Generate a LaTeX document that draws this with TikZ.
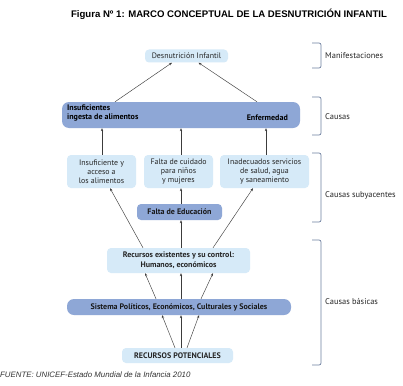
\documentclass[tikz,border=0pt]{standalone}
\usepackage{fontspec}
\setmainfont{PT Sans}
\newfontfamily\arialfont{Liberation Sans}
\usetikzlibrary{arrows.meta}
\definecolor{lightbox}{RGB}{214,234,248}
\definecolor{darkbox}{RGB}{142,167,214}
\definecolor{brackcol}{RGB}{110,128,160}
\definecolor{arrcol}{RGB}{60,60,60}
\begin{document}
\begin{tikzpicture}[x=1pt,y=-1pt,
  lbox/.style={fill=lightbox,draw=none,rounded corners=4pt,inner sep=0pt,align=center,
    font=\fontsize{7.9}{8.8}\selectfont,text=black!85},
  dbox/.style={fill=darkbox,draw=none,rounded corners=4pt,inner sep=0pt,align=center,
    font=\fontsize{8}{9}\selectfont\bfseries,text=black!90},
  arr/.style={draw=arrcol,line width=0.45pt,-{Stealth[length=3pt,width=2.4pt]}},
  brk/.style={draw=brackcol,line width=0.7pt,rounded corners=2pt},
  lvl/.style={anchor=west,inner sep=0pt,font=\fontsize{8.4}{10}\selectfont,text=black!85}]
\useasboundingbox[fill=white] (0,0) rectangle (403,385);

% title
\node[font=\arialfont\bfseries\fontsize{9.6}{11}\selectfont] (title) at (229,14) {Figura Nº 1: MARCO CONCEPTUAL DE LA DESNUTRICIÓN INFANTIL};

% boxes
\node[lbox,minimum width=83pt,minimum height=13pt] (desn) at (186.5,56) {Desnutrición Infantil};
\node[dbox,minimum width=238pt,minimum height=26pt,rounded corners=7pt] (causas) at (181,115) {};
\node[anchor=west,inner sep=0pt,align=left,font=\fontsize{8}{9}\selectfont\bfseries] (insuf) at (67,113) {Insuficientes\\ingesta de alimentos};
\node[anchor=east,inner sep=0pt,font=\fontsize{8}{9}\selectfont\bfseries] (enf) at (288,117.5) {Enfermedad};

\node[lbox,minimum width=69pt,minimum height=33pt] (sub1) at (101.5,171.5) {Insuficiente y\\acceso a\\los alimentos};
\node[lbox,minimum width=69pt,minimum height=33pt] (sub2) at (178.5,171.5) {Falta de cuidado\\para niños\\y mujeres};
\node[lbox,minimum width=89pt,minimum height=33pt] (sub3) at (264.5,171.5) {Inadecuados servicios\\de salud, agua\\y saneamiento};

\node[dbox,minimum width=85pt,minimum height=16pt] (educ) at (179.5,212) {Falta de Educación};
\node[lbox,minimum width=143pt,minimum height=25pt,font=\fontsize{8}{10}\selectfont\bfseries] (recex) at (178.5,260.5) {Recursos existentes y su control:\\Humanos, económicos};
\node[dbox,minimum width=224pt,minimum height=16pt,rounded corners=7pt] (sist) at (179,307) {Sistema Políticos, Económicos, Culturales y Sociales};
\node[lbox,minimum width=111pt,minimum height=15pt,font=\fontsize{8}{9}\selectfont\bfseries] (recpot) at (177.5,355.5) {RECURSOS POTENCIALES};

% arrows
\draw[arr] ([xshift=-66pt]causas.north) -- ([xshift=-14.5pt]desn.south);
\draw[arr] ([xshift=76pt]causas.north) -- ([xshift=12pt]desn.south);

\draw[arr] ([xshift=0.5pt]sub1.north) -- ([xshift=0.5pt]sub1.north |- causas.south);
\draw[arr] ([xshift=2.5pt]sub2.north) -- ([xshift=2.5pt]sub2.north |- causas.south);
\draw[arr] ([xshift=1.5pt]sub3.north) -- ([xshift=1.5pt]sub3.north |- causas.south);

\draw[arr] ([xshift=-35.5pt]recex.north) -- ([xshift=8.5pt]sub1.south);
\draw[arr] ([xshift=34.5pt]recex.north) -- ([xshift=-11.5pt]sub3.south);
\draw[arr] ([xshift=2.5pt]recex.north) -- ([xshift=1.5pt]educ.south);
\draw[arr] ([xshift=1.5pt]educ.north) -- ([xshift=2.5pt]sub2.south);

\draw[arr] ([xshift=-23pt]sist.north) -- ([xshift=-33.5pt]recex.south);
\draw[arr] ([xshift=2pt]sist.north) -- ([xshift=2.5pt]recex.south);
\draw[arr] ([xshift=22pt]sist.north) -- ([xshift=34.5pt]recex.south);

\draw[arr] ([xshift=-2.5pt]recpot.north) -- ([xshift=-17pt]sist.south);
\draw[arr] ([xshift=3.5pt]recpot.north) -- ([xshift=2pt]sist.south);
\draw[arr] ([xshift=9.5pt]recpot.north) -- ([xshift=20pt]sist.south);

% brackets
\draw[brk] (312,43) -- (321,43) -- (321,68) -- (312,68);
\draw[brk] (312,97) -- (321,97) -- (321,135) -- (312,135);
\draw[brk] (312,153) -- (321,153) -- (321,222) -- (312,222);
\draw[brk] (312,240) -- (321,240) -- (321,365) -- (312,365);

\node[lvl] (l1) at (325,56) {Manifestaciones};
\node[lvl] (l2) at (325,117) {Causas};
\node[lvl] (l3) at (325,195) {Causas subyacentes};
\node[lvl] (l4) at (325,302) {Causas básicas};

% source
\node[anchor=west,inner sep=0pt,font=\arialfont\itshape\fontsize{7.85}{9}\selectfont,text=black!80] (src) at (0,375) {FUENTE: UNICEF-Estado Mundial de la Infancia 2010};
\end{tikzpicture}
\end{document}
